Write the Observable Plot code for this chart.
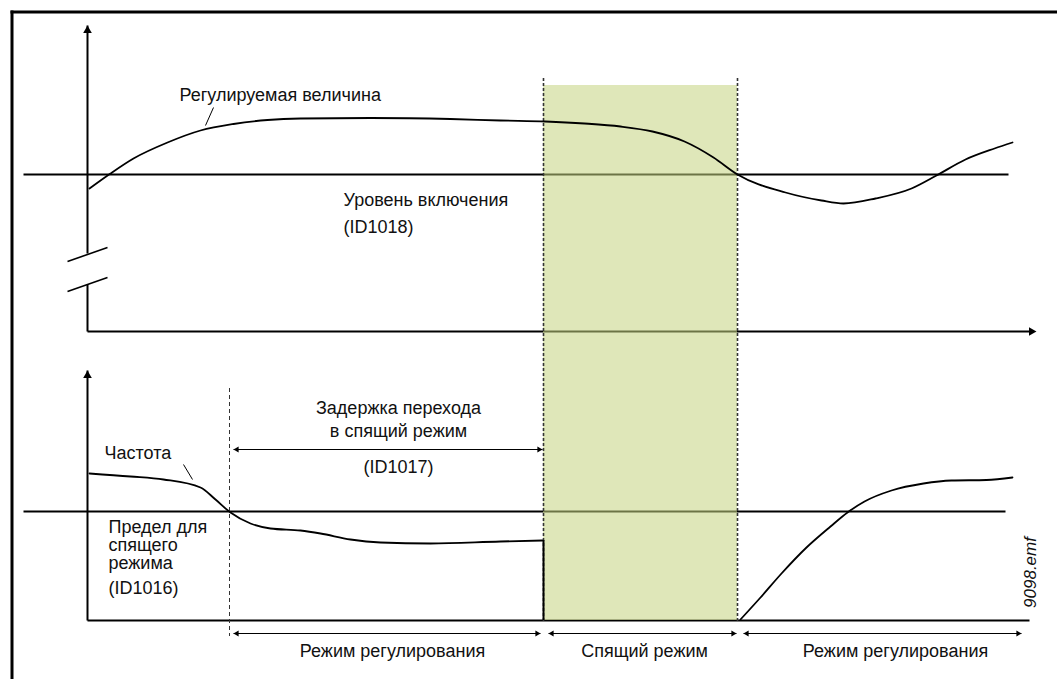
<!DOCTYPE html>
<html><head><meta charset="utf-8">
<script src="https://cdn.jsdelivr.net/npm/d3@7"></script>
<script src="https://cdn.jsdelivr.net/npm/@observablehq/plot@0.6"></script>
<style>html,body{margin:0;padding:0;background:#fff;} #chart svg{display:block}</style>
</head><body><div id="chart"></div>
<script>
// ---- schematic data (x = time, y = level, screen units, downward) ----
const controlledT = [89,110,133,167,200,233,267,300,370,450,500,545,584,620,652,684,713,737,785,821,843,875,911,936,965,994,1012];
const controlledV = [188,173,158,142,130,123.5,119.5,118,117.5,118.5,120,121,123,126,131,141,157,174,192,200,203,198,188,175,159,148,142];
const freqRunT = [89,130,163,200,215,230,250,270,300,320,350,380,430,500,542];
const freqRunV = [473,476,479,487,499,512,523,528,530,533,539,542,543,541,540];
const freqWakeT = [740,760,781,806,830,847,864,891,923,951,986,1012];
const freqWakeV = [619,597,573,547,526,512,501,490,483,480,479.5,477];
const wakeLevel = 174;      // ID1018
const sleepLevel = 511;     // ID1016
const delayStart = 229;
const sleepStart = 543;
const sleepEnd = 737;
const labels = ["Регулируемая величина","Уровень включения","(ID1018)","Частота",
  "Предел для","спящего","режима","(ID1016)","Задержка перехода","в спящий режим","(ID1017)",
  "Режим регулирования","Спящий режим","Режим регулирования","9098.emf"];

const W = 1057, H = 679;
const controlled = controlledT.map((t,i)=>({t, v: controlledV[i]}));
const freqRun = freqRunT.map((t,i)=>({t, v: freqRunV[i]}));
const freqWake = freqWakeT.map((t,i)=>({t, v: freqWakeV[i]}));

const frame = [{x1:11.5,y1:10,x2:11.5,y2:H},{x1:10,y1:11.5,x2:W,y2:11.5}];
const axes = [
  {x1:87,y1:25,x2:87,y2:253},{x1:87,y1:284,x2:87,y2:331},{x1:87,y1:331,x2:1032,y2:331},
  {x1:87,y1:370,x2:87,y2:620},{x1:87,y1:620,x2:1029,y2:620},
  {x1:23,y1:wakeLevel,x2:1008,y2:wakeLevel},{x1:23,y1:sleepLevel,x2:1005,y2:sleepLevel}
];
const breaks = [{x1:67,y1:261,x2:107,y2:247},{x1:67,y1:291,x2:107,y2:277}];
const headsUp = [{x:87,y:25},{x:87,y:370}];
const headsRight = [{x:1036,y:331}];
const spans = [
  {x1:233,x2:542,y:449},
  {x1:233,x2:540,y:633},{x1:548,x2:736,y:633},{x1:743,x2:1021,y:633}
];
const leaders = [{x1:205,y1:125,x2:213,y2:107},{x1:183,y1:464,x2:192,y2:479}];
const txtStart = [
  {s:labels[0],x:179,y:95},{s:labels[1],x:343,y:200},{s:labels[2],x:343,y:227},
  {s:labels[3],x:104,y:453},{s:labels[4],x:108,y:527},{s:labels[5],x:108,y:545},
  {s:labels[6],x:108,y:563},{s:labels[7],x:108,y:588}
];
const txtMid = [
  {s:labels[8],x:398,y:408},{s:labels[9],x:398,y:431},{s:labels[10],x:398,y:467},
  {s:labels[11],x:392,y:651},{s:labels[12],x:644,y:651},{s:labels[13],x:895,y:651}
];

const svg = Plot.plot({
  width: W, height: H, margin: 0,
  x: {domain:[0,W], range:[0,W], axis:null},
  y: {domain:[0,H], range:[0,H], axis:null},
  style: {fontFamily:"'Liberation Sans', Arial, sans-serif", fontSize:"18px", background:"#fff", color:"#111"},
  marks: [
    Plot.link(frame, {x1:"x1",y1:"y1",x2:"x2",y2:"y2", stroke:"#000", strokeWidth:3}),
    Plot.link(axes, {x1:"x1",y1:"y1",x2:"x2",y2:"y2", stroke:"#000", strokeWidth:2}),
    Plot.link(breaks, {x1:"x1",y1:"y1",x2:"x2",y2:"y2", stroke:"#000", strokeWidth:1.6}),
    Plot.rect([{x1:sleepStart, x2:sleepEnd}], {x1:"x1", x2:"x2", y1:85, y2:620, fill:"rgb(196,211,127)", fillOpacity:0.55}),
    Plot.ruleX([sleepStart, sleepEnd], {y1:78, y2:621, stroke:"#333", strokeWidth:1.6, strokeDasharray:"3,2"}),
    Plot.ruleX([delayStart], {y1:388, y2:636, stroke:"#333", strokeWidth:1, strokeDasharray:"4,3"}),
    Plot.line(controlled, {x:"t", y:"v", curve:"monotone-x", stroke:"#000", strokeWidth:1.8}),
    Plot.line(freqRun, {x:"t", y:"v", curve:"monotone-x", stroke:"#000", strokeWidth:1.8}),
    Plot.ruleX([sleepStart], {y1:freqRunV[freqRunV.length-1], y2:620, stroke:"#000", strokeWidth:2}),
    Plot.line(freqWake, {x:"t", y:"v", curve:"monotone-x", stroke:"#000", strokeWidth:1.8}),
    Plot.dot(headsUp, {x:"x", y:"y", symbol:"triangle", r:3.2, fill:"#000", stroke:null, dy:5}),
    Plot.dot(headsRight, {x:"x", y:"y", symbol:"triangle", r:3.2, fill:"#000", stroke:null, rotate:90, dx:-5}),
    Plot.link(spans, {x1:"x1", x2:"x2", y1:"y", y2:"y", stroke:"#000", strokeWidth:1}),
    Plot.dot(spans, {x:"x1", y:"y", symbol:"triangle", r:2.2, fill:"#000", stroke:null, rotate:-90, dx:3.4}),
    Plot.dot(spans, {x:"x2", y:"y", symbol:"triangle", r:2.2, fill:"#000", stroke:null, rotate:90, dx:-3.4}),
    Plot.link(leaders, {x1:"x1",y1:"y1",x2:"x2",y2:"y2", stroke:"#000", strokeWidth:1}),
    Plot.text(txtStart, {x:"x", y:"y", text:"s", textAnchor:"start", fill:"#111"}),
    Plot.text(txtMid, {x:"x", y:"y", text:"s", textAnchor:"middle", fill:"#111"}),
    Plot.text([labels[14]], {x:1030, y:572, text:d=>d, rotate:-90, fontStyle:"italic", fontSize:17, fill:"#111"})
  ]
});
document.getElementById("chart").appendChild(svg);
</script>
</body></html>
